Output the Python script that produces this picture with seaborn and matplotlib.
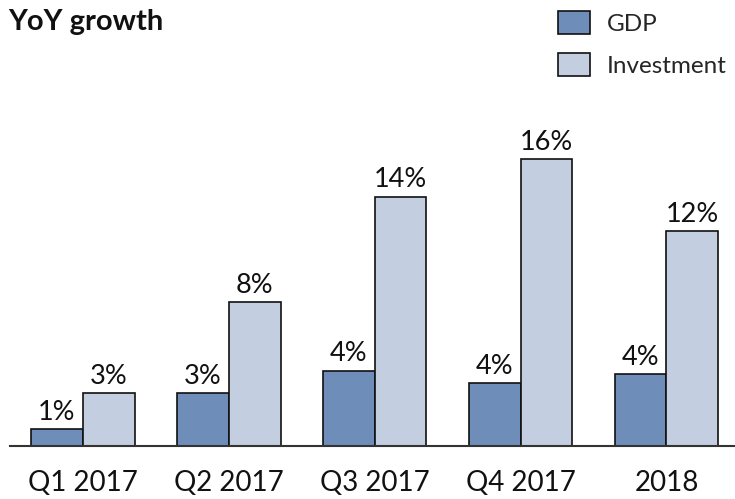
import pandas as pd
import seaborn as sns
import matplotlib.pyplot as plt
from matplotlib.patches import Patch

periods = ["Q1 2017", "Q2 2017", "Q3 2017", "Q4 2017", "2018"]
gdp = [0.95, 2.95, 4.2, 3.5, 4.0]
investment = [2.95, 8.0, 13.9, 16.0, 12.0]
gdp_labels = ["1%", "3%", "4%", "4%", "4%"]
investment_labels = ["3%", "8%", "14%", "16%", "12%"]
series = ["GDP", "Investment"]
colors = ["#6f8db9", "#c3cee0"]

df = pd.DataFrame({
    "period": periods * 2,
    "value": gdp + investment,
    "series": ["GDP"] * len(periods) + ["Investment"] * len(periods),
})

sns.set_style("white")
plt.rcParams["font.family"] = ["Lato", "DejaVu Sans"]

fig = plt.figure(figsize=(7.35, 4.99), dpi=100)
ax = fig.add_axes([10 / 735, 53 / 499, 725 / 735, 326 / 499])

sns.barplot(data=df, x="period", y="value", hue="series", palette=colors,
            saturation=1, width=0.71, edgecolor="#111111", linewidth=1.2,
            ax=ax, legend=False)

for cont, labs in zip(ax.containers, [gdp_labels, investment_labels]):
    ax.bar_label(cont, labels=labs, padding=3, fontsize=19.5, color="#111111")

ax.set_xlim(-0.5, 4.47)
ax.set_ylim(0, 18.17)
ax.set_xlabel("")
ax.set_ylabel("")
ax.set_yticks([])
ax.tick_params(axis="x", length=0, pad=17, labelsize=20, labelcolor="#111111")
for side in ["top", "left", "right"]:
    ax.spines[side].set_visible(False)
ax.spines["bottom"].set_color("#333333")
ax.spines["bottom"].set_linewidth(1.5)

fig.text(8 / 735, 1 - 9 / 499, "YoY growth", fontsize=21, fontweight="bold",
         va="top", ha="left", color="#111111")

handles = [Patch(facecolor=c, edgecolor="#111111", linewidth=1.2) for c in colors]
ax.legend(handles, series, loc="upper left", bbox_to_anchor=(558 / 735, 1 - 11 / 499),
          bbox_transform=fig.transFigure, frameon=False, fontsize=17.5,
          handlelength=1.3, handleheight=1.07, handletextpad=0.7,
          labelspacing=0.75, borderpad=0, borderaxespad=0)

fig.savefig("out.png", dpi=100)
